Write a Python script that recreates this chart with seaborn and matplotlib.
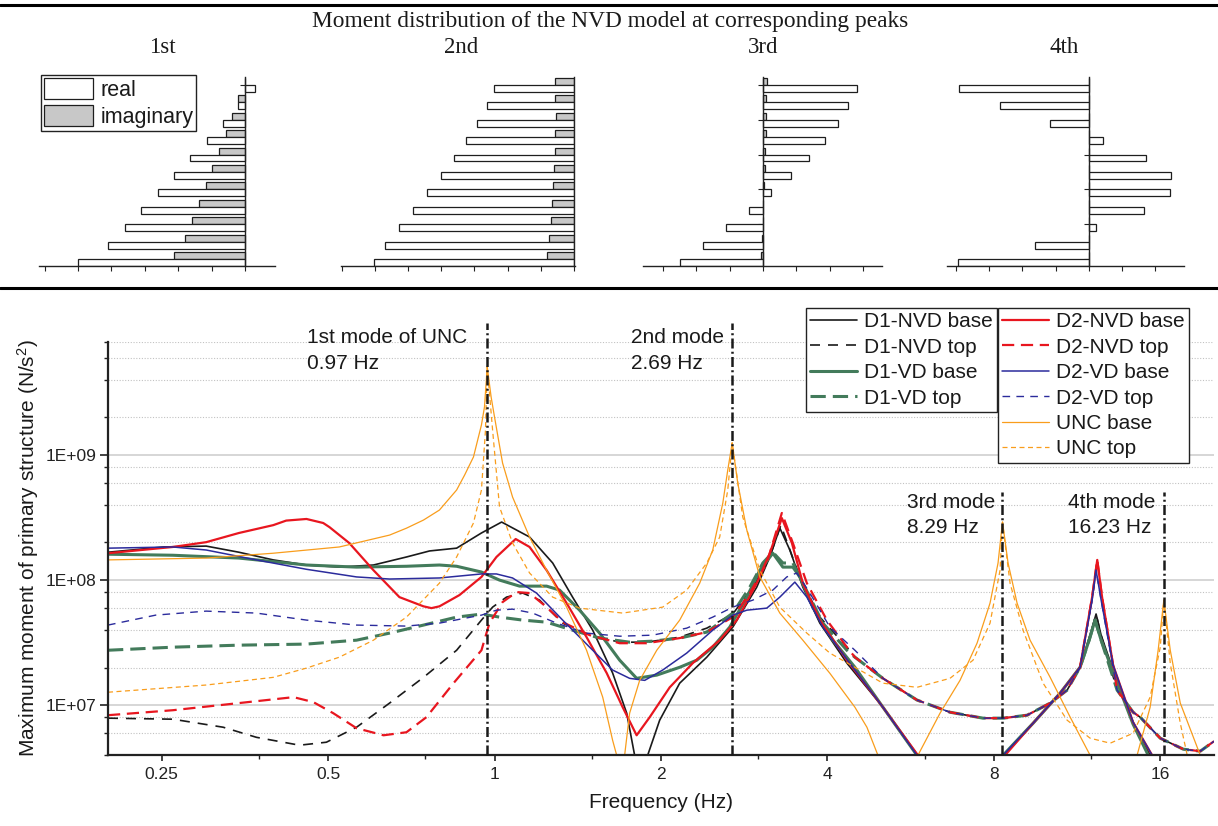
import matplotlib
matplotlib.use("Agg")
import matplotlib.pyplot as plt
import matplotlib.ticker as mticker
from matplotlib.lines import Line2D
from matplotlib.patches import Patch
import numpy as np
import pandas as pd
import seaborn as sns

# ---------------------------------------------------------------------------
# Mode shapes of the NVD model (real / imaginary part per storey, top -> base)
# ---------------------------------------------------------------------------
storeys = ["S11", "S10", "S9", "S8", "S7", "S6", "S5", "S4", "S3", "S2", "S1"]
mode_titles = ["1st", "2nd", "3rd", "4th"]

mode1_real = [0.30, -0.20, -0.65, -1.15, -1.64, -2.13, -2.61, -3.11, -3.60, -4.10, -5.01]
mode1_imag = [0.00, -0.20, -0.38, -0.57, -0.78, -0.98, -1.17, -1.38, -1.58, -1.79, -2.13]
mode2_real = [-2.41, -2.61, -2.91, -3.25, -3.61, -4.00, -4.42, -4.84, -5.28, -5.70, -6.04]
mode2_imag = [-0.58, -0.56, -0.55, -0.56, -0.58, -0.61, -0.64, -0.67, -0.70, -0.74, -0.81]
mode3_real = [2.82, 2.56, 2.25, 1.85, 1.38, 0.83, 0.23, -0.43, -1.11, -1.79, -2.50]
mode3_imag = [0.11, 0.09, 0.08, 0.08, 0.07, 0.05, 0.03, 0.01, -0.01, -0.03, -0.07]
mode4_real = [-3.89, -2.68, -1.16, 0.43, 1.72, 2.47, 2.45, 1.65, 0.21, -1.63, -3.94]
mode4_imag = [0.00, 0.00, 0.00, 0.00, 0.00, 0.00, 0.00, 0.00, 0.00, 0.00, 0.00]

# ---------------------------------------------------------------------------
# Maximum moment of the primary structure vs. frequency
# ---------------------------------------------------------------------------
d1_nvd_base_f = [0.2, 0.252, 0.301, 0.345, 0.398, 0.457, 0.524, 0.604, 0.693, 0.763,
                 0.854, 0.947, 1.030, 1.157, 1.274, 1.384, 1.505, 1.635, 1.734, 1.792,
                 1.838, 1.892, 1.989, 2.162, 2.420, 2.697, 2.980, 3.146, 3.280, 3.420,
                 3.610, 3.875, 4.337, 5.039, 5.806, 6.946, 8.310, 9.416, 10.54, 11.45,
                 11.94, 12.24, 12.50, 13.14, 14.28, 15.33, 16.67]
d1_nvd_base_v = [1.67e8, 1.84e8, 1.87e8, 1.67e8, 1.45e8, 1.32e8, 1.27e8, 1.32e8, 1.53e8, 1.71e8,
                 1.80e8, 2.38e8, 2.91e8, 2.21e8, 1.37e8, 7.31e7, 3.98e7, 1.81e7, 8.63e6, 3.98e6,
                 1.74e6, 3.98e6, 7.59e6, 1.50e7, 2.42e7, 4.21e7, 8.79e7, 1.53e8, 2.61e8, 1.74e8,
                 8.79e7, 4.53e7, 2.17e7, 9.64e6, 3.98e6, 1.20e6, 3.98e6, 7.18e6, 1.25e7, 2.01e7,
                 3.63e7, 5.36e7, 3.63e7, 1.91e7, 7.31e6, 3.98e6, 1.74e6]

d1_nvd_top_f = [0.2, 0.262, 0.323, 0.371, 0.444, 0.4965, 0.563, 0.646, 0.744, 0.854,
                0.947, 0.992, 1.051, 1.124, 1.206, 1.328, 1.486, 1.684, 1.884, 2.162,
                2.420, 2.697, 2.931, 3.146, 3.294, 3.565, 3.875, 4.337, 4.484, 5.039,
                5.806, 6.662, 7.645, 8.310, 9.184, 10.11, 10.85, 11.45, 11.94, 12.24,
                12.50, 13.36, 14.28, 14.71, 15.99, 17.60, 18.89, 20.0]
d1_nvd_top_v = [7.88e6, 7.73e6, 6.67e6, 5.54e6, 4.79e6, 5.06e6, 6.67e6, 1.04e7, 1.67e7, 2.75e7,
                4.79e7, 6.08e7, 7.31e7, 7.88e7, 6.92e7, 4.53e7, 3.63e7, 3.19e7, 3.19e7, 3.50e7,
                4.13e7, 5.36e7, 8.79e7, 1.53e8, 2.75e8, 1.06e8, 5.06e7, 2.91e7, 2.42e7, 1.64e7,
                1.10e7, 8.79e6, 7.88e6, 7.88e6, 8.32e6, 1.04e7, 1.32e7, 2.01e7, 3.63e7, 5.36e7,
                3.63e7, 1.32e7, 8.79e6, 8.02e6, 5.45e6, 4.45e6, 4.29e6, 5.15e6]

d1_vd_base_f = [0.2, 0.262, 0.345, 0.457, 0.563, 0.693, 0.795, 0.854, 0.947, 1.021,
                1.110, 1.242, 1.311, 1.425, 1.549, 1.684, 1.807, 1.965, 2.162, 2.321,
                2.481, 2.663, 2.859, 3.018, 3.186, 3.322, 3.463, 3.565, 3.764, 4.091,
                4.484, 5.039, 5.806, 6.946, 8.310, 9.416, 10.54, 11.45, 11.89, 12.19,
                12.50, 13.14, 14.28, 15.21, 16.67]
d1_vd_base_v = [1.61e8, 1.58e8, 1.50e8, 1.32e8, 1.27e8, 1.29e8, 1.32e8, 1.29e8, 1.16e8, 1.00e8,
                8.95e7, 8.95e7, 8.32e7, 5.75e7, 3.77e7, 2.29e7, 1.64e7, 1.74e7, 2.01e7, 2.29e7,
                2.91e7, 4.21e7, 7.31e7, 1.20e8, 1.64e8, 1.27e8, 1.27e8, 1.06e8, 6.08e7, 3.31e7,
                2.01e7, 9.64e6, 3.98e6, 1.20e6, 3.98e6, 7.18e6, 1.25e7, 2.01e7, 3.31e7, 4.79e7,
                3.31e7, 1.84e7, 7.05e6, 3.98e6, 1.74e6]

d1_vd_top_f = [0.2, 0.262, 0.345, 0.457, 0.563, 0.646, 0.744, 0.854, 0.947, 1.021,
               1.124, 1.242, 1.384, 1.549, 1.755, 1.932, 2.162, 2.420, 2.697, 2.895,
               3.056, 3.186, 3.322, 3.463, 3.610, 3.924, 4.337, 4.484, 5.039, 5.806,
               6.662, 7.645, 8.310, 9.184, 10.11, 10.85, 11.45, 11.89, 12.19, 12.50,
               13.36, 14.28, 14.71, 15.99, 17.60, 18.89, 20.0]
d1_vd_top_v = [2.75e7, 2.91e7, 3.02e7, 3.08e7, 3.31e7, 3.77e7, 4.37e7, 5.06e7, 5.35e7, 5.06e7,
               4.79e7, 4.61e7, 3.98e7, 3.44e7, 3.19e7, 3.25e7, 3.44e7, 3.84e7, 5.45e7, 8.79e7,
               1.37e8, 1.67e8, 1.37e8, 1.37e8, 9.46e7, 4.53e7, 2.75e7, 2.42e7, 1.64e7, 1.10e7,
               8.79e6, 7.88e6, 7.88e6, 8.32e6, 1.04e7, 1.32e7, 2.01e7, 3.31e7, 4.79e7, 3.31e7,
               1.32e7, 8.79e6, 8.02e6, 5.45e6, 4.45e6, 4.29e6, 5.15e6]

d2_nvd_base_f = [0.2, 0.262, 0.301, 0.345, 0.398, 0.42, 0.457, 0.49, 0.503, 0.546,
                 0.604, 0.673, 0.744, 0.769, 0.795, 0.864, 0.947, 1.008, 1.092, 1.157,
                 1.242, 1.350, 1.467, 1.595, 1.705, 1.807, 1.908, 2.074, 2.283, 2.554,
                 2.742, 2.980, 3.146, 3.308, 3.449, 3.610, 3.875, 4.337, 5.039, 5.830,
                 6.946, 8.379, 9.416, 10.54, 11.45, 12.04, 12.30, 12.55, 13.14, 14.28,
                 15.46, 16.67]
d2_nvd_base_v = [1.64e8, 1.84e8, 2.01e8, 2.38e8, 2.75e8, 2.99e8, 3.08e8, 2.86e8, 2.65e8, 1.98e8,
                 1.20e8, 7.31e7, 6.17e7, 5.97e7, 6.17e7, 7.59e7, 1.06e8, 1.53e8, 2.13e8, 1.84e8,
                 1.20e8, 6.55e7, 3.50e7, 1.81e7, 9.64e6, 5.75e6, 8.02e6, 1.39e7, 2.17e7, 3.31e7,
                 4.79e7, 9.46e7, 1.64e8, 3.13e8, 1.98e8, 9.46e7, 4.79e7, 2.29e7, 9.64e6, 3.98e6,
                 1.20e6, 3.98e6, 7.18e6, 1.25e7, 2.01e7, 7.31e7, 1.45e8, 7.31e7, 2.09e7, 7.31e6,
                 3.98e6, 1.74e6]

d2_nvd_top_f = [0.2, 0.262, 0.345, 0.433, 0.470, 0.511, 0.563, 0.630, 0.693, 0.753,
                0.843, 0.947, 0.979, 1.034, 1.096, 1.157, 1.242, 1.328, 1.486, 1.684,
                1.884, 2.162, 2.420, 2.697, 2.895, 3.107, 3.308, 3.463, 3.671, 3.990,
                4.337, 4.484, 5.039, 5.806, 6.662, 7.645, 8.310, 9.184, 10.11, 10.85,
                11.45, 12.04, 12.30, 12.55, 13.36, 14.28, 14.71, 15.99, 17.60, 18.89, 20.0]
d2_nvd_top_v = [8.32e6, 9.12e6, 1.04e7, 1.16e7, 1.06e7, 8.63e6, 6.55e6, 5.75e6, 6.08e6, 8.02e6,
                1.50e7, 2.75e7, 4.53e7, 6.67e7, 8.02e7, 7.88e7, 6.08e7, 4.61e7, 3.63e7, 3.13e7,
                3.13e7, 3.44e7, 3.84e7, 5.06e7, 7.88e7, 1.37e8, 3.44e8, 1.98e8, 9.46e7, 4.79e7,
                2.91e7, 2.42e7, 1.64e7, 1.10e7, 8.79e6, 7.88e6, 7.88e6, 8.32e6, 1.04e7, 1.32e7,
                2.01e7, 7.31e7, 1.45e8, 7.31e7, 1.32e7, 8.79e6, 8.02e6, 5.45e6, 4.45e6, 4.29e6, 5.15e6]

d2_vd_base_f = [0.2, 0.262, 0.301, 0.371, 0.457, 0.563, 0.646, 0.795, 0.947, 1.008,
                1.078, 1.191, 1.328, 1.486, 1.635, 1.755, 1.869, 2.014, 2.226, 2.481,
                2.697, 2.859, 3.107, 3.280, 3.492, 3.671, 3.924, 4.484, 5.039, 5.806,
                6.946, 8.310, 9.416, 10.54, 11.45, 12.04, 12.24, 12.50, 13.14, 14.28,
                15.46, 16.67]
d2_vd_base_v = [1.80e8, 1.84e8, 1.74e8, 1.45e8, 1.22e8, 1.06e8, 1.02e8, 1.04e8, 1.12e8, 1.12e8,
                1.04e8, 7.88e7, 4.79e7, 2.91e7, 1.91e7, 1.64e7, 1.58e7, 1.91e7, 2.61e7, 3.98e7,
                5.25e7, 5.75e7, 5.97e7, 7.31e7, 9.64e7, 7.31e7, 4.21e7, 1.91e7, 9.64e6, 3.98e6,
                1.20e6, 3.98e6, 7.18e6, 1.25e7, 2.01e7, 6.92e7, 1.20e8, 6.92e7, 2.09e7, 7.31e6,
                3.98e6, 1.74e6]

d2_vd_top_f = [0.2, 0.244, 0.301, 0.371, 0.457, 0.563, 0.693, 0.795, 0.947, 1.008,
               1.078, 1.172, 1.295, 1.467, 1.684, 1.932, 2.226, 2.481, 2.697, 2.931,
               3.186, 3.377, 3.521, 3.717, 4.040, 4.484, 5.039, 5.806, 6.662, 7.645,
               8.310, 9.184, 10.11, 10.85, 11.45, 12.04, 12.24, 12.50, 13.36, 14.28,
               14.71, 15.99, 17.60, 18.89, 20.0]
d2_vd_top_v = [4.37e7, 5.25e7, 5.65e7, 5.45e7, 4.79e7, 4.37e7, 4.29e7, 4.53e7, 5.25e7, 5.75e7,
               5.86e7, 5.45e7, 4.53e7, 3.77e7, 3.56e7, 3.63e7, 4.13e7, 5.06e7, 6.08e7, 6.92e7,
               8.32e7, 1.06e8, 1.14e8, 7.88e7, 4.21e7, 2.75e7, 1.64e7, 1.10e7, 8.79e6, 7.88e6,
               7.88e6, 8.32e6, 1.04e7, 1.32e7, 2.01e7, 6.92e7, 1.20e8, 6.92e7, 1.32e7, 8.79e6,
               8.02e6, 5.45e6, 4.45e6, 4.29e6, 5.15e6]

unc_base_f = [0.2, 0.301, 0.398, 0.524, 0.646, 0.693, 0.744, 0.795, 0.854, 0.883,
              0.916, 0.947, 0.959, 0.97, 0.986, 1.0, 1.034, 1.078, 1.157, 1.242,
              1.350, 1.467, 1.569, 1.635, 1.663, 1.691, 1.719, 1.755, 1.830, 1.965,
              2.162, 2.350, 2.481, 2.587, 2.641, 2.69, 2.753, 2.859, 3.018, 3.280,
              3.610, 4.040, 4.484, 4.714, 4.935, 5.364, 5.830, 6.391, 6.946, 7.456,
              7.871, 8.138, 8.29, 8.484, 8.809, 9.299, 10.11, 10.99, 11.94, 13.14,
              14.52, 15.33, 15.85, 16.23, 16.67, 17.38, 18.89, 20.0]
unc_base_v = [1.45e8, 1.50e8, 1.64e8, 1.84e8, 2.29e8, 2.60e8, 3.02e8, 3.63e8, 5.25e8, 6.92e8,
              9.64e8, 1.74e9, 2.42e9, 5.06e9, 2.90e9, 2.01e9, 8.63e8, 4.61e8, 2.21e8, 1.20e8,
              6.08e7, 2.75e7, 1.16e7, 5.25e6, 3.98e6, 2.09e6, 3.98e6, 8.63e6, 1.58e7, 2.75e7,
              4.79e7, 9.46e7, 1.74e8, 4.13e8, 7.59e8, 1.25e9, 5.97e8, 2.51e8, 1.06e8, 5.45e7,
              3.31e7, 1.80e7, 9.64e6, 6.67e6, 3.98e6, 1.74e6, 3.98e6, 8.63e6, 1.58e7, 3.13e7,
              6.55e7, 1.37e8, 2.91e8, 1.37e8, 6.55e7, 3.31e7, 1.67e7, 8.02e6, 3.98e6, 1.74e6,
              3.98e6, 9.64e6, 2.75e7, 6.92e7, 2.75e7, 1.04e7, 3.98e6, 2.09e6]

unc_top_f = [0.2, 0.301, 0.398, 0.457, 0.524, 0.604, 0.693, 0.795, 0.854, 0.916,
             0.947, 0.963, 0.97, 0.992, 1.021, 1.078, 1.157, 1.274, 1.425, 1.705,
             2.014, 2.226, 2.420, 2.554, 2.641, 2.69, 2.811, 3.018, 3.280, 3.671,
             4.040, 4.484, 5.039, 5.806, 6.662, 7.333, 7.871, 8.206, 8.29, 8.555,
             9.032, 9.817, 10.85, 11.94, 12.98, 14.28, 15.33, 15.99, 16.23, 16.67,
             17.38, 17.89, 18.89]
unc_top_v = [1.27e7, 1.45e7, 1.67e7, 1.98e7, 2.42e7, 3.31e7, 5.06e7, 9.46e7, 1.53e8, 2.86e8,
             5.25e8, 1.58e9, 5.06e9, 1.58e9, 3.84e8, 1.98e8, 1.14e8, 7.31e7, 5.97e7, 5.45e7,
             6.08e7, 8.32e7, 1.37e8, 2.21e8, 5.25e8, 1.25e9, 3.19e8, 1.20e8, 6.08e7, 3.77e7,
             2.61e7, 2.01e7, 1.50e7, 1.39e7, 1.64e7, 2.29e7, 4.53e7, 1.20e8, 2.91e8, 9.46e7,
             3.98e7, 1.50e7, 7.59e6, 5.45e6, 4.97e6, 5.97e6, 1.16e7, 2.91e7, 6.92e7, 2.17e7,
             7.18e6, 3.98e6, 1.74e6]

mode_freqs = [0.97, 2.69, 8.29, 16.23]
mode_names = ["1st mode of UNC", "2nd mode", "3rd mode", "4th mode"]

xtick_values = [0.25, 0.5, 1, 2, 4, 8, 16]
xtick_labels = ["0.25", "0.5", "1", "2", "4", "8", "16"]
xminor_values = [0.375, 0.75, 1.5, 3, 6, 12]

# ---------------------------------------------------------------------------
sns.set_theme(style="ticks")
plt.rcParams["font.family"] = ["Liberation Sans", "DejaVu Sans"]
plt.rcParams.update({
    "mathtext.fontset": "custom",
    "mathtext.rm": "Liberation Sans",
    "mathtext.it": "Liberation Sans:italic",
    "axes.edgecolor": "#222222",
    "xtick.color": "#222222",
    "ytick.color": "#222222",
    "text.color": "#1a1a1a",
    "axes.labelcolor": "#1a1a1a",
})
SERIF = ["Liberation Serif", "DejaVu Serif"]

W, H = 1218, 826
fig = plt.figure(figsize=(W / 100, H / 100), dpi=100)


def fx(px):
    return px / W


def fy(py):
    return 1 - py / H


# --------------------------- upper strip: mode shapes ----------------------
fig.add_artist(Line2D([0, 1], [fy(5), fy(5)], transform=fig.transFigure, color="black", lw=2.2))
fig.add_artist(Line2D([0, 1], [fy(288), fy(288)], transform=fig.transFigure, color="black", lw=2.2))
fig.text(fx(610), fy(27), "Moment distribution of the NVD model at corresponding peaks",
         ha="center", va="baseline", fontsize=16.8, family=SERIF)

panels = [
    (mode1_real, mode1_imag, 39, 275, (-6.17, 0.90), list(range(-6, 1)), 162),
    (mode2_real, mode2_imag, 341, 575, (-7.02, 0.03), list(range(-7, 1)), 461),
    (mode3_real, mode3_imag, 643, 882, (-3.60, 3.57), list(range(-3, 4)), 763),
    (mode4_real, mode4_imag, 947, 1184, (-4.26, 2.86), list(range(-4, 3)), 1064),
]
bar_palette = {"imaginary": "#c8c8c8", "real": "white"}
for (real, imag, x0, x1, xlim, ticks, title_x), title in zip(panels, mode_titles):
    axm = fig.add_axes([fx(x0), fy(266), fx(x1) - fx(x0), (266 - 77) / H])
    df = pd.DataFrame({
        "storey": storeys * 2,
        "part": ["imaginary"] * len(storeys) + ["real"] * len(storeys),
        "value": list(imag) + list(real),
    })
    sns.barplot(data=df, x="value", y="storey", hue="part", order=storeys,
                hue_order=["imaginary", "real"], palette=bar_palette, orient="h",
                errorbar=None, edgecolor="#1e1e1e", linewidth=0.9, width=0.8,
                legend=False, ax=axm)
    axm.set_xlim(*xlim)
    axm.set_ylim(10.4, -0.45)
    axm.set_xticks(ticks)
    axm.set_xticklabels([])
    axm.set_yticks([0, 2, 4, 6, 8, 10])
    axm.set_yticklabels([])
    axm.set_xlabel("")
    axm.set_ylabel("")
    axm.set_axisbelow(True)
    for side in ("top", "right"):
        axm.spines[side].set_visible(False)
    axm.spines["left"].set_position(("data", 0))
    axm.spines["left"].set_linewidth(1.0)
    axm.spines["bottom"].set_linewidth(1.0)
    axm.tick_params(axis="both", direction="out", length=3.5, width=0.8)
    axm.patch.set_alpha(0)
    fig.text(fx(title_x), fy(53), title, ha="center", va="baseline", fontsize=16.5, family=SERIF)

fig.legend(handles=[Patch(facecolor="white", edgecolor="#1e1e1e", lw=0.9, label="real"),
                    Patch(facecolor="#c8c8c8", edgecolor="#1e1e1e", lw=0.9, label="imaginary")],
           loc="upper left", bbox_to_anchor=(fx(41), fy(75)), fontsize=15.5,
           handlelength=2.28, handleheight=1.12, labelspacing=0.2, borderpad=0.15,
           handletextpad=0.32, borderaxespad=0, frameon=True, fancybox=False,
           edgecolor="#222222", framealpha=1)

# --------------------------- lower panel: spectra --------------------------
ax = fig.add_axes([fx(108), fy(755), fx(1214) - fx(108), (755 - 342) / H])
ax.set_xscale("log", base=2)
ax.set_yscale("log")

BLACK, GREEN, RED, NAVY, ORANGE = "#1a1a1a", "#437b5b", "#e8161f", "#2b2b9c", "#f99d1c"
series = [
    ("D1-NVD base", d1_nvd_base_f, d1_nvd_base_v, BLACK, 1.2, "-"),
    ("D1-NVD top", d1_nvd_top_f, d1_nvd_top_v, BLACK, 1.2, (0, (6, 4.8))),
    ("D1-VD base", d1_vd_base_f, d1_vd_base_v, GREEN, 2.2, "-"),
    ("D1-VD top", d1_vd_top_f, d1_vd_top_v, GREEN, 2.2, (0, (5, 2.3))),
    ("D2-NVD base", d2_nvd_base_f, d2_nvd_base_v, RED, 1.6, "-"),
    ("D2-NVD top", d2_nvd_top_f, d2_nvd_top_v, RED, 1.6, (0, (5.5, 3.0))),
    ("D2-VD base", d2_vd_base_f, d2_vd_base_v, NAVY, 1.1, "-"),
    ("D2-VD top", d2_vd_top_f, d2_vd_top_v, NAVY, 1.0, (0, (5.5, 4.5))),
    ("UNC base", unc_base_f, unc_base_v, ORANGE, 0.9, "-"),
    ("UNC top", unc_top_f, unc_top_v, ORANGE, 0.9, (0, (4, 2.8))),
]
handles = {}
for label, f, v, color, lw, ls in series:
    sns.lineplot(x=f, y=v, ax=ax, color=color, linewidth=lw, linestyle=ls,
                 sort=False, estimator=None, legend=False, label=label)
    handles[label] = ax.lines[-1]

ax.set_xlim(0.2, 20)
ax.set_ylim(4e6, 8e9)

ax.xaxis.set_major_locator(mticker.FixedLocator(xtick_values))
ax.xaxis.set_major_formatter(mticker.FixedFormatter(xtick_labels))
ax.xaxis.set_minor_locator(mticker.FixedLocator(xminor_values))
ax.xaxis.set_minor_formatter(mticker.NullFormatter())
ax.yaxis.set_major_locator(mticker.LogLocator(base=10, numticks=12))
ax.yaxis.set_major_formatter(mticker.FuncFormatter(lambda val, _: f"1E+{int(round(np.log10(val))):02d}"))
ax.yaxis.set_minor_locator(mticker.LogLocator(base=10, subs=(2, 4, 6, 8), numticks=24))
ax.yaxis.set_minor_formatter(mticker.NullFormatter())

ax.set_axisbelow(True)
ax.yaxis.grid(True, which="major", color="#d6d6d6", lw=1.4, ls="-")
ax.yaxis.grid(True, which="minor", color="#c2c2c2", lw=0.8, ls=(0, (1, 1.5)))
ax.xaxis.grid(False)
for side in ("top", "right"):
    ax.spines[side].set_visible(False)
for side in ("left", "bottom"):
    ax.spines[side].set_linewidth(1.6)
    ax.spines[side].set_color("#222222")
ax.tick_params(axis="x", which="major", direction="out", length=4.5, width=1.2, pad=4, labelsize=12.5)
ax.tick_params(axis="x", which="minor", direction="out", length=3, width=1.0)
ax.tick_params(axis="y", which="major", direction="out", length=5.5, width=1.2, pad=3, labelsize=12.5)
ax.tick_params(axis="y", which="minor", direction="out", length=3.2, width=1.0)

ax.set_xlabel("Frequency (Hz)", fontsize=15, labelpad=8)
ax.set_ylabel("Maximum moment of primary structure (N/s$^2$)", fontsize=15, labelpad=3)

# vertical markers at the natural frequencies of the uncontrolled structure
line_tops = [1.046, 1.046, 0.637, 0.637]
text_offsets = [-130, -72.5, -69, -69]
text_rows = [(0.9976, 0.9346), (0.9976, 0.9346), (0.598, 0.5375), (0.598, 0.5375)]
xtrans = ax.get_xaxis_transform()
for freq, name, top, dx, (r1, r2) in zip(mode_freqs, mode_names, line_tops, text_offsets, text_rows):
    ax.plot([freq, freq], [0, top], transform=xtrans, color="#1a1a1a", lw=1.8,
            ls=(0, (4, 1.3, 0.8, 1.3)), clip_on=False, zorder=5)
    ax.annotate(name, xy=(freq, r1), xycoords=xtrans, xytext=(dx, 0), textcoords="offset points",
                ha="left", va="baseline", fontsize=15, annotation_clip=False)
    ax.annotate(f"{freq} Hz", xy=(freq, r2), xycoords=xtrans, xytext=(dx, 0), textcoords="offset points",
                ha="left", va="baseline", fontsize=15, annotation_clip=False)

legend_kw = dict(loc="upper left", fontsize=15, handlelength=2.26, handletextpad=0.34,
                 labelspacing=0.31, borderpad=0.2, borderaxespad=0, frameon=True,
                 fancybox=False, edgecolor="#222222", framealpha=1)
left_labels = ["D1-NVD base", "D1-NVD top", "D1-VD base", "D1-VD top"]
right_labels = ["D2-NVD base", "D2-NVD top", "D2-VD base", "D2-VD top", "UNC base", "UNC top"]
leg1 = fig.legend([handles[k] for k in left_labels], left_labels,
                  bbox_to_anchor=(fx(806), fy(308)), **legend_kw)
leg2 = fig.legend([handles[k] for k in right_labels], right_labels,
                  bbox_to_anchor=(fx(998), fy(308)), **legend_kw)
for leg in (leg1, leg2):
    leg.get_frame().set_linewidth(1.0)

fig.savefig("out.png", dpi=100)
